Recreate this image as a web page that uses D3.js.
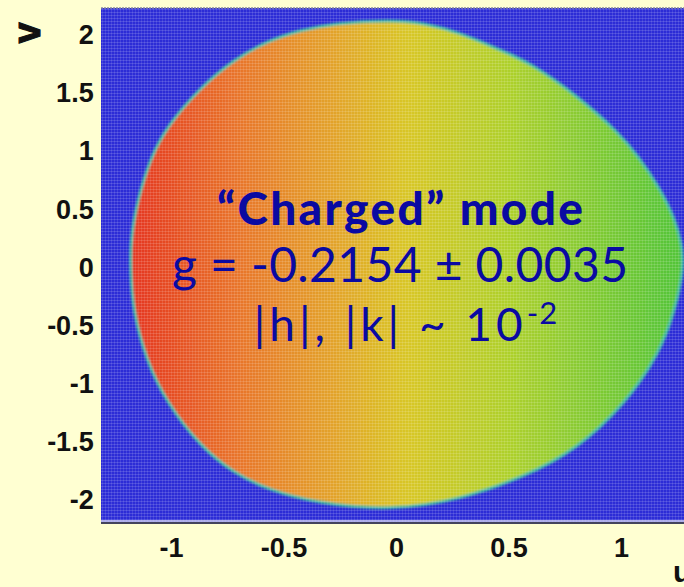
<!DOCTYPE html>
<html>
<head>
<meta charset="utf-8">
<script src="https://cdn.jsdelivr.net/npm/d3@7"></script>
<style>
  body { margin: 0; background: #ffffd2; }
  svg { display: block; }
  .tick text { font-family: "Liberation Sans", Arial, sans-serif; font-weight: bold; fill: #111; }
</style>
</head>
<body>
<svg id="canvas" width="684" height="587"></svg>
<script>
// axis ticks
var xTicks = [-1, -0.5, 0, 0.5, 1];
var yTicks = [2, 1.5, 1, 0.5, 0, -0.5, -1, -1.5, -2];

// Dalitz boundary (u, v), going round clockwise
var boundaryU = [-1.18, -1.18, -1.15, -1.09, -1.02, -0.87, -0.72, -0.57, -0.43, -0.28, -0.02, 0.13, 0.28, 0.43, 0.60, 0.81, 0.99, 1.08, 1.17, 1.24, 1.27, 1.28,
                 1.24, 1.17, 1.02, 0.80, 0.57, 0.28, -0.02, -0.35, -0.57, -0.72, -0.87, -1.02, -1.11, -1.17];
var boundaryV = [-0.02, 0.24, 0.58, 0.95, 1.21, 1.55, 1.79, 1.95, 2.04, 2.10, 2.13, 2.10, 2.02, 1.90, 1.76, 1.47, 1.16, 0.95, 0.69, 0.42, 0.20, 0.0,
                 -0.37, -0.74, -1.17, -1.57, -1.80, -2.00, -2.09, -2.03, -1.91, -1.77, -1.54, -1.16, -0.80, -0.37];

// colour along u (density falls with u)
var colorU = [-1.2, -0.7, -0.25, 0.05, 0.5, 1.3];
var colorC = ["#e4331f", "#e8752a", "#e2a62a", "#d8c626", "#aed02c", "#4ec43a"];

var textLines = ["\u201cCharged\u201d mode", "g = -0.2154 \u00b1 0.0035", "|h|, |k| ~ 10", "-2"];

var svg = d3.select("#canvas");

var xScale = d3.scaleLinear().domain([0, 1]).range([396, 621]);
var yScale = d3.scaleLinear().domain([0, 1]).range([267.5, 151.25]);

var plotLeft = 101, plotTop = 8, plotBottom = 522, plotRight = 700;

var defs = svg.append("defs");

var mesh = defs.append("pattern")
	.attr("id", "mesh")
	.attr("patternUnits", "userSpaceOnUse")
	.attr("width", 3).attr("height", 3);
mesh.append("rect").attr("width", 3).attr("height", 1).attr("fill", "#ffffff").attr("opacity", 0.14);
mesh.append("rect").attr("width", 1).attr("height", 3).attr("fill", "#ffffff").attr("opacity", 0.11);

var u0 = colorU[0], u1 = colorU[colorU.length - 1];
var grad = defs.append("linearGradient")
	.attr("id", "dens")
	.attr("gradientUnits", "userSpaceOnUse")
	.attr("x1", xScale(u0)).attr("x2", xScale(u1))
	.attr("y1", 0).attr("y2", 0);
grad.selectAll("stop").data(colorU).enter()
	.append("stop")
	.attr("offset", function (d) { return (d - u0) / (u1 - u0); })
	.attr("stop-color", function (d, i) { return colorC[i]; });

defs.append("filter").attr("id", "soft")
	.append("feGaussianBlur").attr("stdDeviation", 0.8);

// plot background
svg.append("rect")
	.attr("x", plotLeft).attr("y", plotTop)
	.attr("width", plotRight - plotLeft).attr("height", plotBottom - plotTop)
	.attr("fill", "#2c2cd6");

var pts = boundaryU.map(function (u, i) { return [u, boundaryV[i]]; });
var line = d3.line()
	.x(function (d) { return xScale(d[0]); })
	.y(function (d) { return yScale(d[1]); })
	.curve(d3.curveBasisClosed);

svg.append("path")
	.attr("d", line(pts))
	.attr("fill", "url(#dens)")
	.attr("stroke", "#3cbaa0")
	.attr("stroke-width", 3)
	.attr("filter", "url(#soft)");

// mesh texture over plot
svg.append("rect")
	.attr("x", plotLeft).attr("y", plotTop)
	.attr("width", plotRight - plotLeft).attr("height", plotBottom - plotTop)
	.attr("fill", "url(#mesh)");

// frame lines
svg.append("line")
	.attr("x1", plotLeft).attr("x2", plotRight).attr("y1", plotTop).attr("y2", plotTop)
	.attr("stroke", "#8888a0").attr("stroke-width", 1.5).attr("stroke-dasharray", "2,1");
svg.append("line")
	.attr("x1", plotLeft).attr("x2", plotRight).attr("y1", plotBottom - 1).attr("y2", plotBottom - 1)
	.attr("stroke", "#d8d8f0").attr("stroke-width", 1.5);
svg.append("line")
	.attr("x1", plotLeft).attr("x2", plotRight).attr("y1", plotBottom + 1).attr("y2", plotBottom + 1)
	.attr("stroke", "#44445c").attr("stroke-width", 2);

var fmt = function (d) { return d3.format("")(d).replace("\u2212", "-"); };
var xAxis = d3.axisBottom(xScale).tickValues(xTicks).tickSize(0).tickPadding(8).tickFormat(fmt);
var yAxis = d3.axisLeft(yScale).tickValues(yTicks).tickSize(0).tickPadding(6).tickFormat(fmt);

svg.append("g")
	.attr("class", "x axis")
	.attr("transform", "translate(0," + (plotBottom + 1) + ")")
	.call(xAxis)
	.call(function (g) { g.select(".domain").remove(); })
	.selectAll("text").attr("font-size", 27).attr("dy", "0.95em");

svg.append("g")
	.attr("class", "y axis")
	.attr("transform", "translate(" + plotLeft + ",0)")
	.call(yAxis)
	.call(function (g) { g.select(".domain").remove(); })
	.selectAll("text").attr("font-size", 27).attr("dx", "-0.05em");

// axis titles (cut by the frame)
svg.append("text")
	.attr("transform", "translate(40,33) rotate(-90)")
	.attr("text-anchor", "middle")
	.attr("font-family", "Liberation Sans, Arial, sans-serif")
	.attr("font-weight", "bold").attr("font-size", 38)
	.attr("stroke", "#111").attr("stroke-width", 1)
	.attr("fill", "#111")
	.text("v");
svg.append("text")
	.attr("x", 673).attr("y", 582)
	.attr("font-family", "Liberation Sans, Arial, sans-serif")
	.attr("font-weight", "bold").attr("font-size", 30)
	.attr("fill", "#111")
	.text("u");

// annotation
var ann = svg.append("g")
	.attr("font-family", "'Comic Sans MS', Lato, sans-serif")
	.attr("fill", "#0a0aa2")
	.attr("text-anchor", "middle");

ann.append("text")
	.attr("x", 400).attr("y", 225)
	.attr("font-size", 46).attr("font-weight", 900)
	.attr("textLength", 366).attr("lengthAdjust", "spacing")
	.text(textLines[0]);
ann.append("text")
	.attr("x", 400).attr("y", 282)
	.attr("font-size", 48)
	.attr("textLength", 456).attr("lengthAdjust", "spacing")
	.text(textLines[1]);
var l3 = ann.append("text")
	.attr("x", 406).attr("y", 341)
	.attr("font-size", 46)
	.attr("letter-spacing", 4);
l3.append("tspan").text(textLines[2]);
l3.append("tspan").attr("dy", -17).attr("font-size", 31).attr("letter-spacing", 1).text(textLines[3]);
</script>
</body>
</html>
